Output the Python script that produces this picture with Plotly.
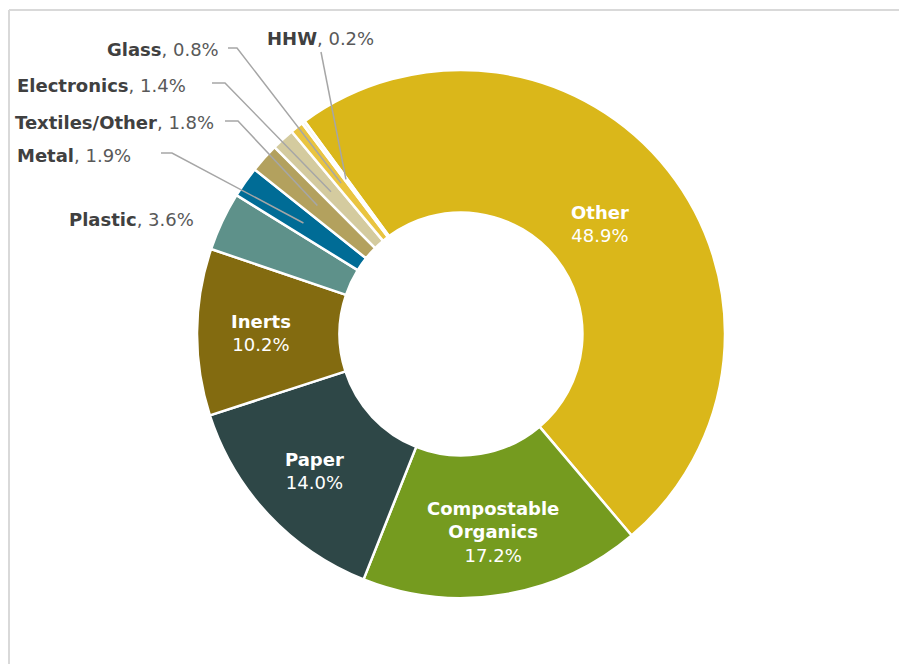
import math
import plotly.graph_objects as go

# Waste composition shares (%), listed clockwise from the top of the ring
categories = ["Other", "Compostable Organics", "Paper", "Inerts", "Plastic",
              "Metal", "Textiles/Other", "Electronics", "Glass", "HHW"]
shares = [48.9, 17.2, 14.0, 10.2, 3.6, 1.9, 1.8, 1.4, 0.8, 0.2]
colors = ["#DAB71A", "#759B1F", "#2E4747", "#836B10", "#5E918A",
          "#006C96", "#B3A15E", "#D4CB9F", "#E9C440", "#F7F2E0"]
# names shown inside the larger slices (line breaks for long names)
inside_names = {"Other": "Other", "Compostable Organics": "Compostable<br>Organics",
                "Paper": "Paper", "Inerts": "Inerts"}

FONT = "DejaVu Sans"
W, H = 899, 664
CX, CY, R = 461, 334, 264          # ring centre and outer radius, px
HOLE = 0.46
ROTATION = -36.3                   # start angle of the first slice (deg from 12 o'clock)
MID_R = R * (1 + HOLE) / 2         # radius of the ring's middle
LABEL_R = 1.04 * MID_R             # default radius of the inside labels
inside_label_r = {"Other": 0.92 * MID_R}

# callout labels for the thin slices: text anchor and leader-line start/elbow (px)
callouts = {
    "HHW":            dict(x=320, y=38,  xanchor="center", start=(321, 52), elbow=None),
    "Glass":          dict(x=221, y=49,  xanchor="right",  start=(228, 48), elbow=(237, 48)),
    "Electronics":    dict(x=188, y=85,  xanchor="right",  start=(212, 83), elbow=(225, 83)),
    "Textiles/Other": dict(x=216, y=122, xanchor="right",  start=(225, 121), elbow=(238, 121)),
    "Metal":          dict(x=133, y=155, xanchor="right",  start=(161, 153), elbow=(172, 153)),
    "Plastic":        dict(x=196, y=219, xanchor="right",  start=None, elbow=None),
}


def px(x):
    return x / W


def py(y):
    return 1 - y / H


# mid-angle of every slice, from the data
total = sum(shares)
mid_angle = {}
cum = 0.0
for name, v in zip(categories, shares):
    mid_angle[name] = math.radians(ROTATION + 360 * (cum + v / 2) / total)
    cum += v


def ring_point(name, r):
    a = mid_angle[name]
    return CX + r * math.sin(a), CY - r * math.cos(a)


fig = go.Figure(go.Pie(
    labels=categories,
    values=shares,
    sort=False,
    direction="clockwise",
    rotation=ROTATION,
    hole=HOLE,
    marker=dict(colors=colors, line=dict(color="white", width=2.5)),
    textinfo="none",
    hoverinfo="label+percent",
    domain=dict(x=[px(CX - R), px(CX + R)], y=[py(CY + R), py(CY - R)]),
))

annotations = []
shapes = []
for name, v in zip(categories, shares):
    if name in inside_names:
        x, y = ring_point(name, inside_label_r.get(name, LABEL_R))
        annotations.append(dict(
            x=px(x), y=py(y), xref="paper", yref="paper",
            xanchor="center", yanchor="middle", showarrow=False, align="center",
            text=f"<b>{inside_names[name]}</b><br>{v:.1f}%",
            font=dict(family=FONT, size=18, color="white"),
        ))
        continue
    c = callouts[name]
    annotations.append(dict(
        x=px(c["x"]), y=py(c["y"]), xref="paper", yref="paper",
        xanchor=c["xanchor"], yanchor="middle", showarrow=False,
        text=f"<b>{name}</b><span style='color:#595959'>, {v:.1f}%</span>",
        font=dict(family=FONT, size=18, color="#404040"),
    ))
    if c["start"] is None:
        continue
    pts = [c["start"]]
    if c["elbow"] is not None:
        pts.append(c["elbow"])
    pts.append(ring_point(name, MID_R))
    path = "M " + " L ".join(f"{px(x):.5f},{py(y):.5f}" for x, y in pts)
    shapes.append(dict(type="path", path=path, xref="paper", yref="paper",
                       line=dict(color="#A6A6A6", width=1.5)))

# frame lines along the top and left edges
shapes.append(dict(type="line", xref="paper", yref="paper",
                   x0=px(9), y0=py(10), x1=1, y1=py(10),
                   line=dict(color="#D9D9D9", width=2)))
shapes.append(dict(type="line", xref="paper", yref="paper",
                   x0=px(9), y0=py(10), x1=px(9), y1=0,
                   line=dict(color="#D9D9D9", width=2)))

fig.update_layout(
    width=W, height=H,
    margin=dict(l=0, r=0, t=0, b=0),
    paper_bgcolor="white",
    plot_bgcolor="white",
    showlegend=False,
    annotations=annotations,
    shapes=shapes,
)

fig.write_html("out.html")
